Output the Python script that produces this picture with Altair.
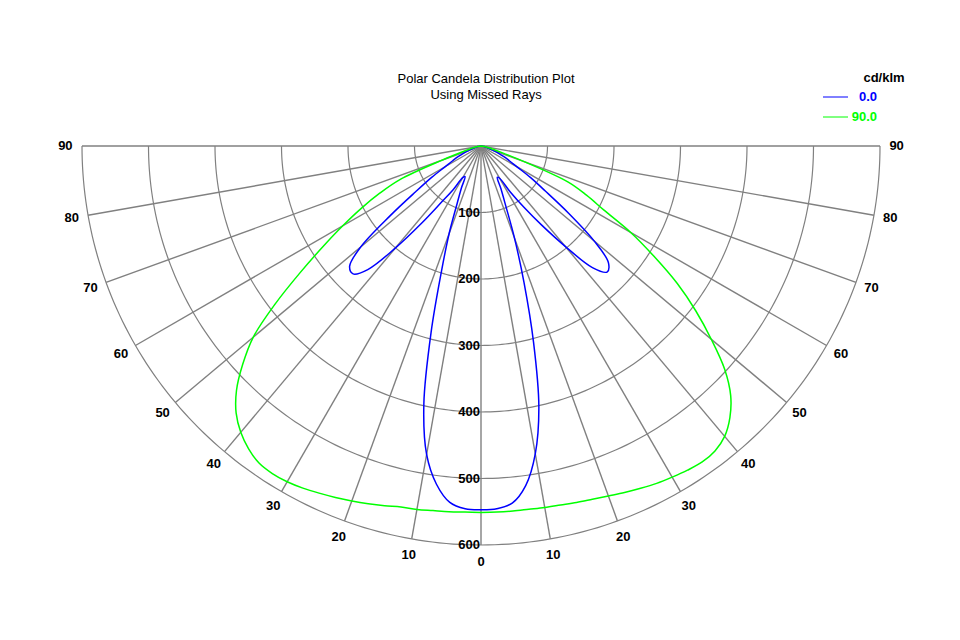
import altair as alt
import pandas as pd

# Angles measured from nadir (degrees) for one half-plane
angles = [0, 2.5, 5, 7.5, 10, 12.5, 15, 17.5, 20, 22.5, 25, 27.5, 30, 32.5, 35,
          37.5, 40, 42.5, 45, 47.5, 50, 52.5, 55, 57.5, 60, 62.5, 65, 67.5, 70,
          72.5, 75, 80, 85, 90]

# cd/klm, 0.0 plane (left / right of nadir)
blue_left = [547, 546, 538, 513, 471, 397, 290, 198, 140, 94, 70, 52, 55, 78, 102,
             145, 200, 252, 272, 268, 236, 172, 120, 88, 62, 48, 38, 28, 20,
             15, 10, 5, 2, 0]
blue_right = [547, 546, 539, 515, 470, 402, 305, 215, 147, 97, 71, 53, 56, 82, 112,
              150, 197, 248, 268, 260, 222, 166, 118, 88, 62, 48, 38, 28, 20,
              15, 10, 5, 2, 0]

# cd/klm, 90.0 plane (left / right of nadir)
green_left = [551, 551, 552, 553, 555, 556, 560, 564, 568, 572, 576, 580, 583, 584, 582,
              574, 562, 545, 520, 486, 447, 390, 332, 282, 240, 203, 168, 132, 62,
              30, 17, 8, 3, 0]
green_right = [551, 551, 551, 551, 552, 553, 555, 557, 560, 564, 568, 572, 575, 578, 580,
               578, 570, 554, 531, 497, 452, 407, 360, 308, 260, 208, 175, 142, 70,
               32, 17, 8, 3, 0]

series_names = ["0.0", "90.0"]
series_colors = ["#0000FF", "#00FF00"]

ring_values = [100, 200, 300, 400, 500, 600]
spoke_angles = list(range(-90, 91, 10))
title_lines = ["Polar Candela Distribution Plot", "Using Missed Rays"]
legend_title = "cd/klm"

FONT = "Liberation Sans"
GRID = "#808080"
R_MAX = 600
PX = 399 / 600  # pixels per cd/klm

# scales put the pole near the top of the canvas
x_scale = alt.Scale(domain=[-481 / PX, (960 - 481) / PX], nice=False, zero=False)
y_scale = alt.Scale(domain=[-(640 - 146) / PX, 146 / PX], nice=False, zero=False)


def xy(r_field, a_field):
    return dict(
        px=f"datum.{r_field} * sin(datum.{a_field} * PI / 180)",
        py=f"-datum.{r_field} * cos(datum.{a_field} * PI / 180)",
    )


# candela curves
rows = []
for name, left, right in [(series_names[0], blue_left, blue_right),
                          (series_names[1], green_left, green_right)]:
    for a, v in zip(angles, left):
        rows.append({"plane": name, "angle": -a, "cd": v})
    for a, v in zip(angles, right):
        rows.append({"plane": name, "angle": a, "cd": v})
curves_df = pd.DataFrame(rows)

# grid rings
ring_rows = [{"ring": r, "angle": a, "cd": r}
             for r in ring_values for a in range(-90, 91, 1)]
rings_df = pd.DataFrame(ring_rows)

rings = alt.Chart(rings_df).mark_line(color=GRID, strokeWidth=1.2).transform_calculate(
    **xy("cd", "angle")
).encode(
    x=alt.X("px:Q", scale=x_scale, axis=None),
    y=alt.Y("py:Q", scale=y_scale, axis=None),
    detail="ring:N",
    order="angle:Q",
)

spokes = alt.Chart(pd.DataFrame({"angle": spoke_angles})).mark_rule(
    color=GRID, strokeWidth=1.4
).transform_calculate(
    x0="0", y0="0",
    x1=f"{R_MAX} * sin(datum.angle * PI / 180)",
    y1=f"-{R_MAX} * cos(datum.angle * PI / 180)",
).encode(
    x=alt.X("x0:Q", scale=x_scale, axis=None),
    y=alt.Y("y0:Q", scale=y_scale, axis=None),
    x2="x1:Q",
    y2="y1:Q",
)

curves = alt.Chart(curves_df).mark_line(
    strokeWidth=1.5, interpolate="catmull-rom"
).transform_calculate(
    **xy("cd", "angle")
).encode(
    x=alt.X("px:Q", scale=x_scale, axis=None),
    y=alt.Y("py:Q", scale=y_scale, axis=None),
    color=alt.Color("plane:N", scale=alt.Scale(domain=series_names, range=series_colors),
                    legend=None),
    order="angle:Q",
)

ring_labels = alt.Chart(pd.DataFrame({"cd": ring_values})).mark_text(
    font=FONT, fontSize=13, fontWeight="bold", align="right", baseline="middle",
    dx=-1, color="black"
).transform_calculate(
    px="0", py="-datum.cd", lab="format(datum.cd, 'd')"
).encode(
    x=alt.X("px:Q", scale=x_scale, axis=None),
    y=alt.Y("py:Q", scale=y_scale, axis=None),
    text="lab:N",
)

angle_labels = alt.Chart(pd.DataFrame({"angle": spoke_angles})).mark_text(
    font=FONT, fontSize=13, fontWeight="bold", align="center", baseline="middle",
    color="black"
).transform_calculate(
    r="625", lab="format(abs(datum.angle), 'd')",
    **xy("r", "angle")
).encode(
    x=alt.X("px:Q", scale=x_scale, axis=None),
    y=alt.Y("py:Q", scale=y_scale, axis=None),
    text="lab:N",
)

one = pd.DataFrame({"k": [0]})
layers = [rings, spokes, curves, ring_labels, angle_labels]

for i, line in enumerate(title_lines):
    layers.append(
        alt.Chart(one).mark_text(font=FONT, fontSize=13, align="center",
                                 baseline="middle", color="black").encode(
            x=alt.value(486), y=alt.value(79 + 16 * i), text=alt.value(line))
    )

layers.append(
    alt.Chart(one).mark_text(font=FONT, fontSize=13, fontWeight="bold",
                             align="center", baseline="middle", color="black").encode(
        x=alt.value(884), y=alt.value(78), text=alt.value(legend_title))
)
for i, (name, col) in enumerate(zip(series_names, series_colors)):
    yy = 97 + 20 * i
    layers.append(
        alt.Chart(one).mark_rule(color=col, strokeWidth=1).encode(
            x=alt.value(823), x2=alt.value(848), y=alt.value(yy))
    )
    layers.append(
        alt.Chart(one).mark_text(font=FONT, fontSize=13, fontWeight="bold",
                                 align="right", baseline="middle", color=col).encode(
            x=alt.value(877), y=alt.value(yy), text=alt.value(name))
    )

chart = alt.layer(*layers).properties(
    width=960, height=640, padding=0, background="white",
    autosize=alt.AutoSizeParams(type="none"),
).configure_view(stroke=None)

chart.save("out.html", embed_options={"renderer": "svg", "actions": False})
